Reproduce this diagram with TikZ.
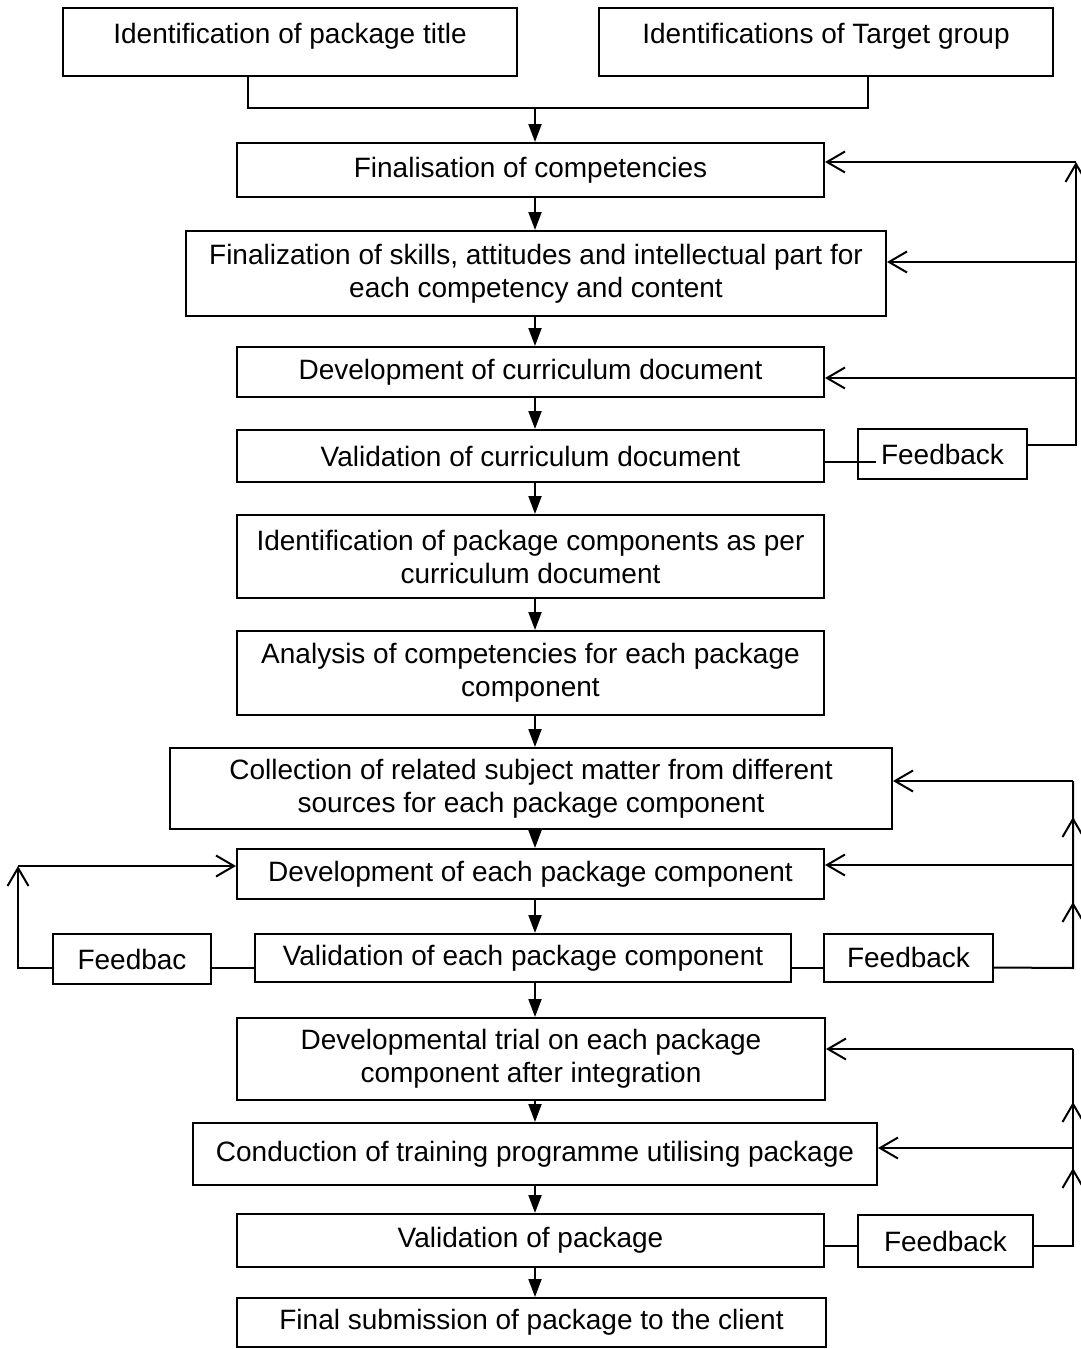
\documentclass[tikz,border=0pt]{standalone}
\usepackage{fontspec}
\setmainfont{Liberation Sans}
\usetikzlibrary{arrows.meta}

\begin{document}
\begin{tikzpicture}[
  x=1pt, y=-1pt,
  font=\fontsize{28}{33}\selectfont,
  line width=2pt,
  stage/.style={draw, align=center, inner sep=0pt},
  fbbox/.style={draw, align=center, inner sep=0pt},
  flow/.style={-{Triangle[length=18pt, width=13pt]}},
  back/.style={-{Straight Barb[length=18pt, width=21pt]}},
]
\useasboundingbox (0,0) rectangle (1081,1349);

\node[stage, minimum width=454pt, minimum height=68pt, text depth=18pt] (t1) at (290,42) {Identification of package title};
\node[stage, minimum width=454pt, minimum height=68pt, text depth=18pt] (t2) at (826,42) {Identifications of Target group};

\node[stage, minimum width=587pt, minimum height=54pt] (s1) at (530.5,170) {Finalisation of competencies};
\node[stage, minimum width=700pt, minimum height=85pt] (s2) at (536,273.5) {Finalization of skills, attitudes and intellectual part for\\each competency and content};
\node[stage, minimum width=587pt, minimum height=50pt] (s3) at (530.5,372) {Development of curriculum document};
\node[stage, minimum width=587pt, minimum height=52pt] (s4) at (530.5,456) {Validation of curriculum document};
\node[stage, minimum width=587pt, minimum height=83pt] (s5) at (530.5,556.5) {Identification of package components as per\\curriculum document};
\node[stage, minimum width=587pt, minimum height=84pt] (s6) at (530.5,673) {Analysis of competencies for each package\\component};
\node[stage, minimum width=722pt, minimum height=81pt] (s7) at (531,788.5) {Collection of related subject matter from different\\sources for each package component};
\node[stage, minimum width=587pt, minimum height=50pt] (s8) at (530.5,874) {Development of each package component};
\node[stage, minimum width=536pt, minimum height=48pt] (s9) at (523,958) {Validation of each package component};
\node[stage, minimum width=588pt, minimum height=82pt] (s10) at (531,1059) {Developmental trial on each package\\component after integration};
\node[stage, minimum width=684pt, minimum height=62pt] (s11) at (535,1154) {Conduction of training programme utilising package};
\node[stage, minimum width=587pt, minimum height=53pt] (s12) at (530.5,1240.5) {Validation of package};
\node[stage, minimum width=589pt, minimum height=49pt] (s13) at (531.5,1322.5) {Final submission of package to the client};

\node[fbbox, minimum width=169pt, minimum height=50pt] (fb1) at (942.5,454) {Feedback};
\node[fbbox, minimum width=158pt, minimum height=50pt] (fbL) at (132,959) {Feedbac};
\node[fbbox, minimum width=169pt, minimum height=48pt] (fb2) at (908.5,957.5) {Feedback};
\node[fbbox, minimum width=175pt, minimum height=52pt] (fb3) at (945.5,1241) {Feedback};

\coordinate (j) at (535,108);
\coordinate (r1a) at (1076,162);
\coordinate (r1b) at (1076,262);
\coordinate (r1c) at (1076,378);
\coordinate (r2a) at (1073,781);
\coordinate (r2b) at (1073,865);
\coordinate (r2c) at (1073,968);
\coordinate (m2a) at (1073,817);
\coordinate (m2b) at (1073,902);
\coordinate (l1) at (18,866);
\coordinate (r3a) at (1073,1049);
\coordinate (r3b) at (1073,1148);
\coordinate (r3c) at (1073,1246);
\coordinate (m3a) at (1073,1102);
\coordinate (m3b) at (1073,1168);

\draw ([xshift=-42pt]t1.south) |- (j) -| ([xshift=42pt]t2.south);
\draw[flow] (j) -- (j |- s1.north);
\foreach \a/\b in {s1/s2, s2/s3, s3/s4, s4/s5, s5/s6, s6/s7, s7/s8, s8/s9, s9/s10, s10/s11, s11/s12, s12/s13}
  \draw[flow] (\a.south -| j) -- (\b.north -| j);

% curriculum feedback
\draw ([yshift=-6pt]s4.east) -- ++(51,0);
\draw[back] ([yshift=9pt]fb1.east) -| (r1a);
\draw[back] (r1a) -- (r1a -| s1.east);
\draw[back] (r1b) -- (r1b -| s2.east);
\draw[back] (r1c) -- (r1c -| s3.east);

% component feedback
\draw ([yshift=-10pt]s9.east) -- ([yshift=-10pt]s9.east -| fb2.west);
\draw ([yshift=-10pt]fb2.east) -- (r2c) -- (r2a);
\draw[back] (r2c) -- (m2b);
\draw[back] (r2b) -- (m2a);
\draw[back] (r2a) -- (r2a -| s7.east);
\draw[back] (r2b) -- (r2b -| s8.east);
\draw ([yshift=-10pt]s9.west) -- ([yshift=-10pt]s9.west -| fbL.east);
\draw[back] ([yshift=-9pt]fbL.west) -| (l1);
\draw[back] (l1) -- (l1 -| s8.west);

% package feedback
\draw ([yshift=-5.5pt]s12.east) -- ([yshift=-5.5pt]s12.east -| fb3.west);
\draw ([yshift=-5pt]fb3.east) -- (r3c) -- (r3a);
\draw[back] (r3c) -- (m3b);
\draw[back] (r3b) -- (m3a);
\draw[back] (r3a) -- (r3a -| s10.east);
\draw[back] (r3b) -- (r3b -| s11.east);

\end{tikzpicture}
\end{document}
